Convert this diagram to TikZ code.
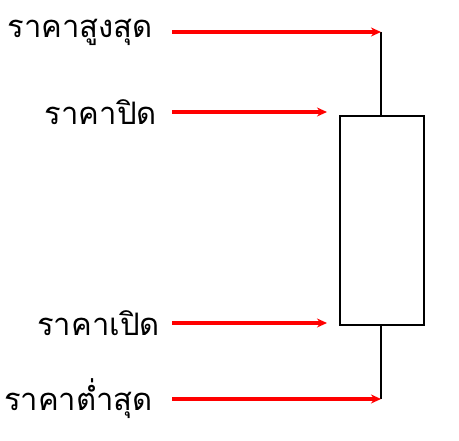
\documentclass[tikz,border=0pt]{standalone}
\usepackage{fontspec}
\newfontfamily\thaifont[Script=Thai]{Loma}
\usetikzlibrary{arrows.meta}
\begin{document}
\begin{tikzpicture}[x=1pt,y=-1pt,
  lbl/.style={font=\thaifont\fontsize{31}{34}\selectfont, anchor=east, inner sep=0pt},
  pointer/.style={draw=red, line width=3.4pt, -{Stealth[length=10pt,width=9pt]}},
  stem/.style={draw=black, line width=2pt}]
\useasboundingbox (0,0) rectangle (459,441);
\node[draw=black, line width=1.8pt, minimum width=84pt, minimum height=209pt, inner sep=0pt] (body) at (382,220.5) {};
\coordinate (hi) at (381,32);
\coordinate (lo) at (381,399);
\coordinate (cl) at (327,112);
\coordinate (op) at (327,323);
\draw[stem] (hi) -- (body.north -| hi);
\draw[stem] (body.south -| lo) -- (lo);
\node[lbl] (thi) at (153,32) {ราคาสูงสุด};
\node[lbl] (tcl) at (157,112) {ราคาปิด};
\node[lbl] (top) at (160,323) {ราคาเปิด};
\node[lbl] (tlo) at (153,399) {ราคาต่ำสุด};
\draw[pointer] (thi.east -| 172,0) -- (hi);
\draw[pointer] (tcl.east -| 172,0) -- (cl);
\draw[pointer] (top.east -| 172,0) -- (op);
\draw[pointer] (tlo.east -| 172,0) -- (lo);
\end{tikzpicture}
\end{document}
